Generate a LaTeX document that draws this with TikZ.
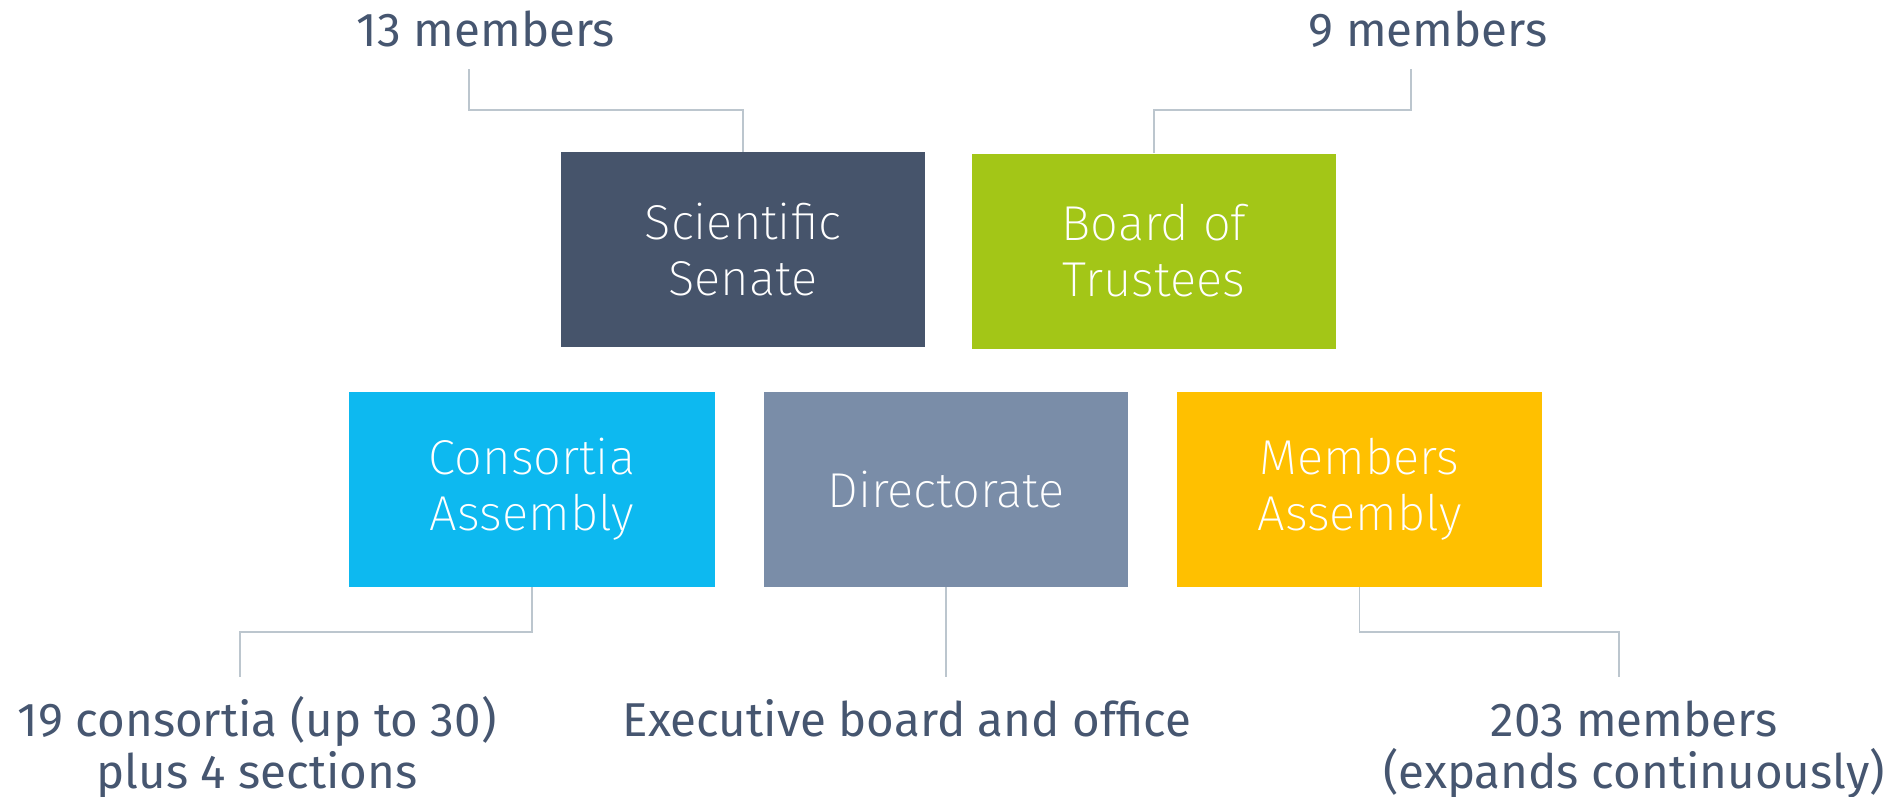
\documentclass[tikz,border=0pt]{standalone}
\usepackage{fontspec}
\setmainfont{Fira Sans}
\newfontfamily\lightfont{Fira Sans ExtraLight}
\definecolor{txt}{HTML}{465670}
\definecolor{cSS}{HTML}{46546B}
\definecolor{cBT}{HTML}{A3C617}
\definecolor{cCA}{HTML}{0DB9F0}
\definecolor{cDIR}{HTML}{7A8DA8}
\definecolor{cMA}{HTML}{FFC000}
\definecolor{lineg}{HTML}{BCC6CE}
\begin{document}
\begin{tikzpicture}[x=1pt,y=-1pt,
  box/.style={rectangle,inner sep=0pt,minimum width=364pt,minimum height=195pt,
    text=white,align=center,font=\lightfont\fontsize{49}{56}\selectfont},
  lbl/.style={text=txt,align=center,inner sep=0pt,anchor=base,font=\fontsize{47.5}{52}\selectfont},
  conn/.style={draw=lineg,line width=1.8pt}]
\useasboundingbox (0,0) rectangle (1901,796);
\node[box,fill=cSS] (ss) at (743,249.5) {Scientific\\Senate};
\node[box,fill=cBT] (bt) at (1154,251) {Board of\\Trustees};
\node[box,fill=cCA,minimum width=366pt] (ca) at (532,489.5) {Consortia\\Assembly};
\node[box,fill=cDIR] (dir) at (946,489.5) {Directorate};
\node[box,fill=cMA,minimum width=365pt] (ma) at (1359.5,489.5) {Members\\Assembly};
\node[lbl] (l13) at (486,46) {13 members};
\node[lbl] (l9) at (1428,46) {9 members};
\node[lbl] (lca) at (257,788) {19 consortia (up to 30)\\plus 4 sections};
\node[lbl] (ldir) at (907,736) {Executive board and office};
\node[lbl] (lma) at (1634,788) {203 members\\(expands continuously)};
\coordinate (c13) at (469,69);
\coordinate (c9) at (1411,69);
\coordinate (cca) at (240,677);
\coordinate (cdir) at (946,677);
\coordinate (cma) at (1619,677);
\draw[conn] (c13) |- ([yshift=42pt]ss.north) -- (ss.north);
\draw[conn] (c9) |- ([yshift=43pt]bt.north) -- (bt.north);
\draw[conn] (ca.south) -- ([yshift=-45pt]ca.south) -| (cca);
\draw[conn] (dir.south) -- (cdir);
\draw[conn] (ma.south) -- ([yshift=-45pt]ma.south) -| (cma);
\end{tikzpicture}
\end{document}
